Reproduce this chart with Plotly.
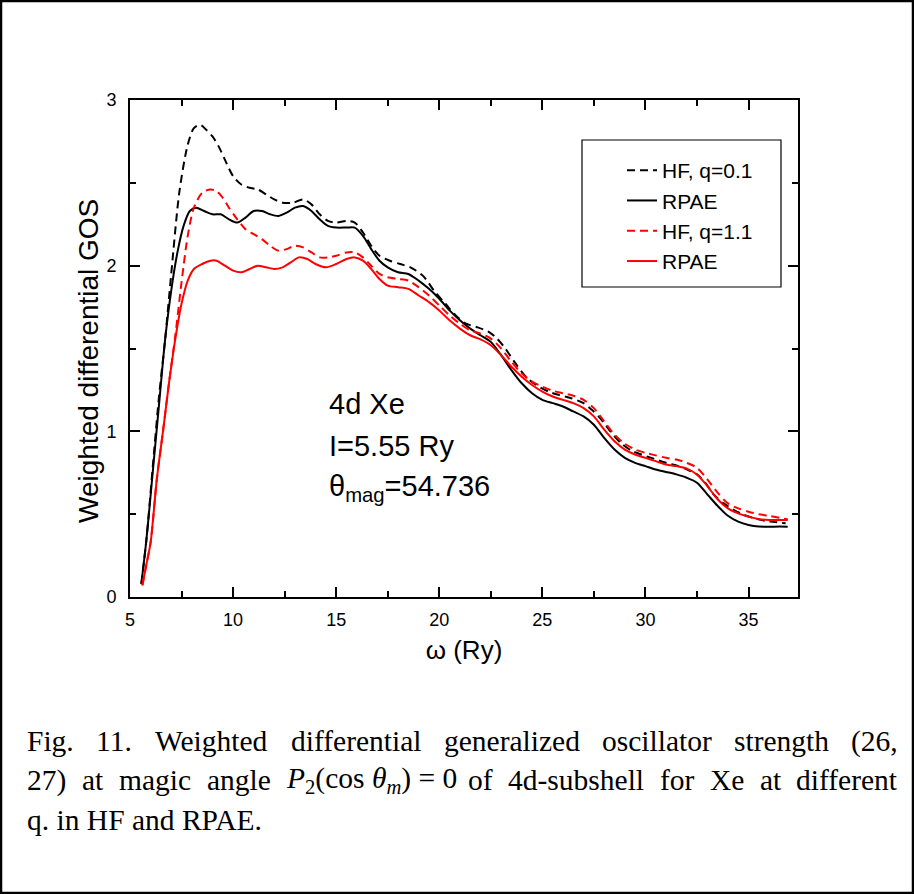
import plotly.graph_objects as go

# ---------------- data ----------------
w_hf01 = [5.55, 5.8, 6.1, 6.4, 6.7, 7.0, 7.4, 7.8, 8.1, 8.4, 8.7, 9.0, 9.3, 9.6, 10.0, 10.4,
          10.8, 11.2, 11.6, 12.0, 12.4, 12.9, 13.4, 13.8, 14.2, 14.6, 15.0, 15.5, 15.9, 16.3,
          16.7, 17.1, 17.6, 18.1, 18.6, 19.2, 19.8, 20.3, 20.8, 21.3, 21.8, 22.4, 22.8, 23.2,
          23.7, 24.2, 24.7, 25.3, 25.8, 26.4, 27.0, 27.4, 27.8, 28.3, 28.8, 29.3, 29.8, 30.4,
          31.0, 31.6, 32.1, 32.5, 32.9, 33.3, 33.8, 34.3, 34.8, 35.3, 35.8, 36.3, 36.8]
g_hf01 = [0.08, 0.35, 0.78, 1.20, 1.55, 1.95, 2.45, 2.73, 2.83, 2.85, 2.82, 2.78, 2.72, 2.64, 2.54, 2.49,
          2.47, 2.46, 2.43, 2.40, 2.38, 2.38, 2.40, 2.37, 2.31, 2.27, 2.26, 2.27, 2.26, 2.20,
          2.12, 2.06, 2.03, 2.01, 1.99, 1.94, 1.84, 1.77, 1.70, 1.65, 1.63, 1.60, 1.56, 1.50,
          1.41, 1.33, 1.28, 1.24, 1.22, 1.20, 1.17, 1.13, 1.08, 1.00, 0.93, 0.885, 0.86, 0.835,
          0.81, 0.79, 0.765, 0.74, 0.69, 0.62, 0.565, 0.525, 0.495, 0.475, 0.46, 0.452, 0.445]

w_rpae01 = [5.55, 5.8, 6.1, 6.4, 6.7, 7.0, 7.3, 7.6, 7.9, 8.2, 8.6, 9.0, 9.4, 9.8, 10.2, 10.6,
            11.0, 11.4, 11.8, 12.2, 12.6, 13.0, 13.4, 13.8, 14.2, 14.6, 15.0, 15.5, 15.9, 16.3,
            16.7, 17.1, 17.5, 18.0, 18.5, 19.0, 19.5, 20.0, 20.5, 21.0, 21.5, 22.0, 22.5, 23.0,
            23.5, 24.0, 24.5, 25.0, 25.5, 26.0, 26.5, 27.0, 27.5, 28.0, 28.5, 29.0, 29.5, 30.0,
            30.5, 31.0, 31.5, 32.0, 32.5, 33.0, 33.5, 34.0, 34.5, 35.0, 35.5, 36.0, 36.5, 36.9]
g_rpae01 = [0.08, 0.35, 0.75, 1.15, 1.55, 1.85, 2.08, 2.24, 2.33, 2.35, 2.33, 2.31, 2.31, 2.28, 2.26, 2.29,
            2.33, 2.33, 2.31, 2.30, 2.32, 2.35, 2.36, 2.33, 2.28, 2.24, 2.23, 2.23, 2.23, 2.18,
            2.10, 2.03, 1.99, 1.96, 1.95, 1.91, 1.86, 1.80, 1.73, 1.67, 1.62, 1.58, 1.54, 1.46,
            1.37, 1.29, 1.23, 1.19, 1.17, 1.15, 1.12, 1.09, 1.04, 0.96, 0.89, 0.84, 0.81, 0.79,
            0.77, 0.755, 0.74, 0.72, 0.69, 0.62, 0.55, 0.49, 0.455, 0.435, 0.425, 0.424, 0.425, 0.424]

w_q11 = [5.6, 5.8, 6.0, 6.3, 6.6, 6.9, 7.2, 7.5, 7.8, 8.1, 8.5, 8.9, 9.2, 9.5, 9.8, 10.2,
         10.6, 11.0, 11.4, 11.8, 12.2, 12.6, 13.0, 13.4, 13.8, 14.2, 14.6, 15.0, 15.5, 15.9,
         16.3, 16.7, 17.1, 17.5, 18.0, 18.5, 19.0, 19.5, 20.0, 20.5, 21.0, 21.5, 22.0, 22.5,
         23.0, 23.5, 24.0, 24.5, 25.0, 25.5, 26.0, 26.5, 27.0, 27.5, 28.0, 28.5, 29.0, 29.5,
         30.0, 30.5, 31.0, 31.5, 32.0, 32.5, 33.0, 33.5, 34.0, 34.5, 35.0, 35.5, 36.0, 36.5, 36.9]
g_hf11 = [0.07, 0.20, 0.33, 0.71, 1.00, 1.30, 1.58, 1.90, 2.18, 2.35, 2.44, 2.46, 2.45, 2.41, 2.35, 2.28,
          2.22, 2.19, 2.16, 2.12, 2.09, 2.10, 2.12, 2.11, 2.08, 2.05, 2.05, 2.06, 2.08, 2.08,
          2.05, 2.00, 1.95, 1.93, 1.92, 1.91, 1.87, 1.82, 1.76, 1.70, 1.65, 1.61, 1.59, 1.56,
          1.50, 1.42, 1.35, 1.30, 1.27, 1.245, 1.23, 1.215, 1.19, 1.14, 1.06, 0.98, 0.925, 0.89,
          0.87, 0.855, 0.84, 0.83, 0.81, 0.78, 0.71, 0.63, 0.565, 0.535, 0.515, 0.50, 0.49, 0.478, 0.469]

w_rpae11 = [5.6, 5.8, 6.0, 6.3, 6.6, 6.9, 7.2, 7.5, 7.8, 8.1, 8.5, 8.9, 9.2, 9.6, 10.0, 10.4,
            10.8, 11.2, 11.6, 12.0, 12.4, 12.8, 13.2, 13.6, 14.0, 14.5, 15.0, 15.5, 15.9, 16.3,
            16.7, 17.1, 17.5, 18.0, 18.5, 19.0, 19.5, 20.0, 20.5, 21.0, 21.5, 22.0, 22.5, 23.0,
            23.5, 24.0, 24.5, 25.0, 25.5, 26.0, 26.5, 27.0, 27.5, 28.0, 28.5, 29.0, 29.5, 30.0,
            30.5, 31.0, 31.5, 32.0, 32.5, 33.0, 33.5, 34.0, 34.5, 35.0, 35.5, 36.0, 36.5, 36.9]
g_rpae11 = [0.07, 0.20, 0.33, 0.71, 1.00, 1.30, 1.56, 1.77, 1.91, 1.98, 2.01, 2.03, 2.03, 2.00, 1.97, 1.96,
            1.98, 2.00, 1.99, 1.98, 1.99, 2.02, 2.05, 2.04, 2.01, 1.99, 2.01, 2.04, 2.05, 2.03,
            1.98, 1.92, 1.88, 1.87, 1.86, 1.82, 1.78, 1.73, 1.67, 1.62, 1.58, 1.555, 1.52, 1.46,
            1.39, 1.33, 1.28, 1.24, 1.21, 1.19, 1.17, 1.14, 1.09, 1.01, 0.94, 0.89, 0.86, 0.84,
            0.82, 0.80, 0.79, 0.775, 0.74, 0.67, 0.59, 0.535, 0.505, 0.485, 0.47, 0.465, 0.465, 0.465]

series_names = ["HF, q=0.1", "RPAE", "HF, q=1.1", "RPAE"]
x_ticks = [5, 10, 15, 20, 25, 30, 35]
y_ticks = [0, 1, 2, 3]

caption_lines = [
    ["Fig.", "11.", "Weighted", "differential", "generalized", "oscillator", "strength", "(26,"],
    ["27)", "at", "magic", "angle", "<i>P</i><sub>2</sub>(cos <i>θ</i><sub><i>m</i></sub>) = 0",
     "of", "4d-subshell", "for", "Xe", "at", "different"],
    ["q. in HF and RPAE."],
]

# ---------------- layout geometry (pixels) ----------------
W, H = 914, 894
L, R, T, B = 130, 798, 100, 597
PW, PH = R - L, B - T


def px(x):
    return (x - L) / PW


def py(y):
    return (B - y) / PH


SANS = "Liberation Sans, Arial, sans-serif"
SERIF = "Liberation Serif, Times New Roman, serif"

# Times New Roman advance widths (1/1000 em) used to justify the caption
TW = {' ': 250, '(': 333, ')': 333, ',': 250, '.': 250, '-': 333, '=': 564}
TW.update({d: 500 for d in "0123456789"})
TW.update(dict(zip("ABCDEFGHIJKLMNOPQRSTUVWXYZ",
                   [722, 667, 667, 722, 611, 556, 722, 722, 333, 389, 722, 611, 889, 722, 722, 556,
                    722, 667, 556, 611, 722, 722, 944, 722, 722, 611])))
TW.update(dict(zip("abcdefghijklmnopqrstuvwxyz",
                   [444, 500, 444, 500, 444, 333, 500, 500, 278, 278, 500, 278, 778, 500, 500, 500,
                    500, 333, 389, 278, 500, 500, 722, 500, 500, 444])))
CAP_FS = 29.5
MATH_W = 166  # rendered width of the formula (px)


def word_width(wd):
    if "<" in wd:
        return MATH_W
    return sum(TW.get(c, 500) for c in wd) / 1000 * CAP_FS


fig = go.Figure()
styles = [("black", "8px,5px"), ("black", "solid"), ("red", "8px,5px"), ("red", "solid")]
data = [(w_hf01, g_hf01), (w_rpae01, g_rpae01), (w_q11, g_hf11), (w_rpae11, g_rpae11)]
for (xs, ys), name, (col, dash) in zip(data, series_names, styles):
    fig.add_trace(go.Scatter(x=xs, y=ys, mode="lines", name=name,
                             line=dict(color=col, width=2, dash=dash, shape="spline", smoothing=0.8)))

axis_common = dict(showgrid=False, zeroline=False, showline=True, linecolor="black", linewidth=2,
                   mirror="allticks", ticks="inside", ticklen=10, tickwidth=1.5, tickcolor="black",
                   tickfont=dict(family=SANS, size=18, color="black"))

fig.update_xaxes(range=[5, 37.4], tickvals=x_ticks, ticktext=[str(v) for v in x_ticks],
                 minor=dict(dtick=2.5, tick0=5, ticks="inside", ticklen=6, tickwidth=1.5, tickcolor="black"),
                 title=dict(text="ω (Ry)", font=dict(family=SANS, size=26, color="black"), standoff=12),
                 ticklabelstandoff=5, **axis_common)
fig.update_yaxes(range=[0, 3], tickvals=y_ticks, ticktext=[str(v) for v in y_ticks],
                 minor=dict(dtick=0.5, tick0=0, ticks="inside", ticklen=6, tickwidth=1.5, tickcolor="black"),
                 ticklabelstandoff=8, **axis_common)

annotations = []
# y-axis title (slightly below the plot centre, as in the reference)
annotations.append(dict(x=px(88), y=py(361), xref="paper", yref="paper", text="Weighted differential GOS",
                        textangle=-90, showarrow=False, xanchor="center", yanchor="middle",
                        font=dict(family=SANS, size=28, color="black")))
# in-plot label
for i, txt in enumerate(["4d Xe", "I=5.55 Ry", "θ<sub>mag</sub>=54.736"]):
    annotations.append(dict(x=px(327), y=py(404 + 42 * i), xref="paper", yref="paper",
                            text=txt, showarrow=False, xanchor="left", yanchor="middle",
                            font=dict(family=SANS, size=29, color="black")))

# caption, justified between x=25 and x=896 (last line left-aligned)
X0, X1 = 25, 896
for li, (words, yc) in enumerate(zip(caption_lines, [741, 780, 820])):
    widths = [word_width(wd) for wd in words]
    if li < 2 and len(words) > 1:
        gap = (X1 - X0 - sum(widths)) / (len(words) - 1)
    else:
        gap = 0
    xpos = X0
    for wd, ww in zip(words, widths):
        annotations.append(dict(x=px(xpos), y=py(yc), xref="paper", yref="paper", text=wd,
                                showarrow=False, xanchor="left", yanchor="middle",
                                font=dict(family=SERIF, size=CAP_FS, color="black")))
        xpos += ww + gap

shapes = [
    # legend box
    dict(type="rect", xref="paper", yref="paper", x0=px(582), x1=px(781), y0=py(287), y1=py(140),
         line=dict(color="black", width=1.2), fillcolor="rgba(0,0,0,0)"),
    # outer frame
    dict(type="rect", xref="paper", yref="paper", x0=px(1), x1=px(913), y0=py(893), y1=py(1),
         line=dict(color="black", width=2.5), fillcolor="rgba(0,0,0,0)"),
]

fig.update_layout(
    width=W, height=H, margin=dict(l=L, r=W - R, t=T, b=H - B, pad=0),
    paper_bgcolor="white", plot_bgcolor="white",
    showlegend=True,
    legend=dict(x=px(622), y=py(150), xanchor="left", yanchor="top", bgcolor="rgba(0,0,0,0)",
                borderwidth=0, font=dict(family=SANS, size=21, color="black"), tracegroupgap=0),
    annotations=annotations, shapes=shapes,
)

fig.write_html("out.html")
